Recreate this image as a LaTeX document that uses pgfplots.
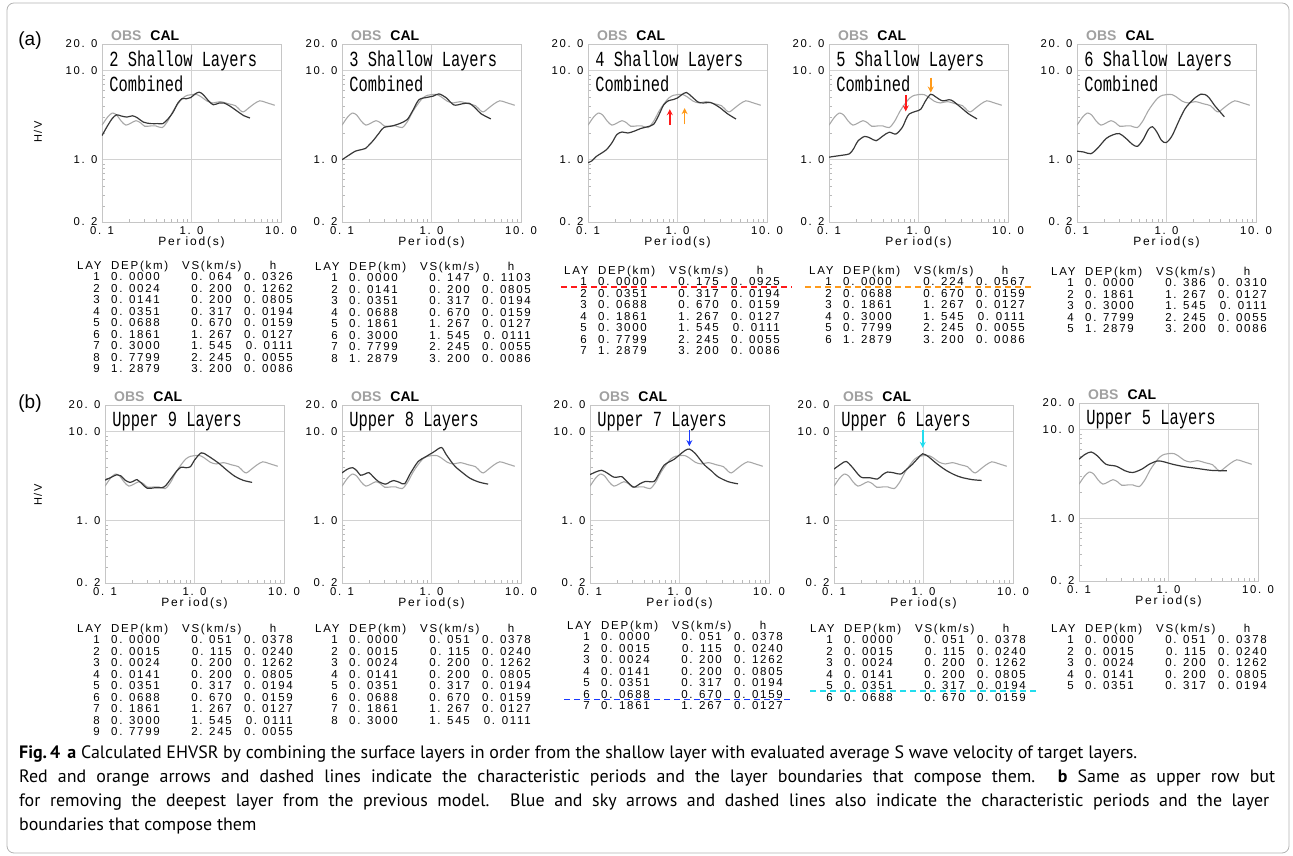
\documentclass[border=0pt]{standalone}
\usepackage{fontspec}
\setmainfont{PT Sans}
\newfontfamily\gfont[LetterSpace=15]{Liberation Sans}
\newfontfamily\hfont{Liberation Sans}
\newfontfamily\mfont{Liberation Mono}
\usepackage{graphicx}
\usepackage{pgfplots}
\usepackage{pgfplotstable}
\pgfplotsset{compat=1.18}
\usetikzlibrary{arrows.meta}
\definecolor{obs}{HTML}{A8A8A8}
\definecolor{obst}{HTML}{A0A0A0}
\definecolor{cal}{HTML}{383838}
\definecolor{myred}{HTML}{FF1A1A}
\definecolor{myorange}{HTML}{FF9A1A}
\definecolor{myblue}{HTML}{1A3AFF}
\definecolor{mysky}{HTML}{22DDEE}

\pgfplotstableread{
T V
0.1 2.45
0.115 3.0
0.13 3.35
0.145 3.2
0.165 2.7
0.185 2.45
0.21 2.58
0.24 2.75
0.27 2.6
0.3 2.38
0.35 2.4
0.4 2.4
0.47 2.3
0.54 2.7
0.62 3.5
0.7 4.2
0.8 4.95
0.9 5.3
1.0 5.4
1.15 5.4
1.3 5.05
1.5 4.55
1.75 4.35
2.1 4.5
2.6 4.25
3.1 4.05
3.5 3.6
3.8 3.45
4.4 3.85
5.0 4.25
5.8 4.6
6.8 4.4
8.5 4.1
}\obstab

\tikzset{
  tfont/.style={font=\gfont\fontsize{11.5}{11.5}\selectfont, inner sep=0pt, text height=8.2pt, text depth=0pt},
  legt/.style={font=\hfont\bfseries\fontsize{14}{14}\selectfont, inner sep=0pt, anchor=south west},
  ttl/.style={font=\mfont\fontsize{15.4}{15.4}\selectfont, inner sep=0pt, anchor=west},
  arr/.style={line width=1.6pt, -{Stealth[length=6pt,width=6pt]}},
}
\newcommand\hvaxis[1]{\begin{axis}[
    xmode=log, ymode=log, xmin=0.1, xmax=10, ymin=0.2, ymax=20,
    width=179pt, height=178pt, scale only axis, anchor=south west, at={#1},
    clip mode=individual,
    axis line style={draw=gray!45, line width=0.7pt},
    xtick={0.1,1,10}, xticklabels={0. 1,1. 0,10. 0},
    ytick={0.2,1,10,20}, yticklabels={0. 2,1. 0,10. 0,20. 0},
    minor xtick={0.2,0.3,0.4,0.5,0.6,0.7,0.8,0.9,2,3,4,5,6,7,8,9},
    minor ytick={0.3,0.4,0.5,0.6,0.7,0.8,0.9,2,3,4,5,6,7,8,9},
    xmajorgrids, ymajorgrids, major grid style={draw=gray!35, line width=0.6pt},
    tick pos=left, tick align=inside, major tick length=0pt, minor tick length=3pt,
    minor tick style={draw=gray!55, line width=0.5pt},
    ticklabel style={font=\gfont\fontsize{11.3}{11.3}\selectfont},
    xticklabel style={yshift=-1pt},
    yticklabel style={xshift=-1pt},
    xlabel={Per iod(s)}, xlabel style={font=\gfont\fontsize{12}{12}\selectfont, yshift=5pt},
  ]}
\newcommand\obsplot{\addplot[color=obs, line width=1.1pt, smooth] table[x=T,y=V] {\obstab};}
\newcommand\obscal{\node[legt] at (rel axis cs:0.05,1.02) {\textcolor{obst}{OBS}\hspace{9pt}CAL};}
\newcommand\ttlA[1]{\node[ttl] at (rel axis cs:0.04,0.906) {\scalebox{1}[1.4]{#1}};}
\newcommand\ttlB[1]{\node[ttl] at (rel axis cs:0.04,0.777) {\scalebox{1}[1.4]{#1}};}
\newcommand\laytab[3]{%
  \node[tfont, anchor=west] at (#1, {856-#2}) {LAY};
  \node[tfont, anchor=west] at ({#1+34}, {856-#2}) {DEP(km)};
  \node[tfont, anchor=west] at ({#1+105}, {856-#2}) {VS(km/s)};
  \node[tfont] at ({#1+196}, {856-#2}) {h};
  \foreach \ca/\cb/\cc/\cd [count=\ii] in {#3} {
    \node[tfont, anchor=east] at ({#1+23}, {856-#2-11.5*\ii}) {\ca};
    \node[tfont, anchor=west] at ({#1+34}, {856-#2-11.5*\ii}) {\cb};
    \node[tfont, anchor=east] at ({#1+155}, {856-#2-11.5*\ii}) {\cc};
    \node[tfont, anchor=east] at ({#1+216}, {856-#2-11.5*\ii}) {\cd};
  }
}
\newcommand\lineone{\textbf{Fig.\,4}\hspace{0.4em}\textbf{a} Calculated EHVSR by combining the surface layers in order from the shallow layer with evaluated average S wave velocity of target layers.}
\newlength\capw

\begin{document}
\settowidth\capw{\fontsize{10}{10}\selectfont\lineone}%
\pgfmathsetmacro\capsize{10*1118/\capw}%
\begin{tikzpicture}
% ---------- top row ----------
\hvaxis{(102pt,634pt)}
\obscal \ttlA{2 Shallow Layers} \ttlB{Combined}
\obsplot
\addplot[color=cal, line width=1.2pt, smooth] coordinates {(0.1,1.87) (0.115,2.4) (0.13,2.9) (0.145,3.2) (0.165,3.1) (0.19,3.02) (0.22,3.12) (0.25,2.95) (0.29,2.65) (0.35,2.55) (0.42,2.55) (0.48,2.55) (0.55,2.9) (0.62,3.4) (0.7,4.3) (0.78,4.85) (0.88,4.85) (0.98,5.0) (1.1,5.5) (1.22,5.75) (1.35,5.4) (1.55,4.6) (1.75,4.15) (2.05,4.35) (2.3,4.35) (2.7,4.0) (3.2,3.55) (3.8,3.15) (4.5,2.95)};
\end{axis}

\hvaxis{(342pt,634pt)}
\obscal \ttlA{3 Shallow Layers} \ttlB{Combined}
\obsplot
\addplot[color=cal, line width=1.2pt, smooth] coordinates {(0.1,1.0) (0.12,1.13) (0.141,1.25) (0.165,1.3) (0.183,1.34) (0.205,1.5) (0.226,1.67) (0.26,2.0) (0.293,2.3) (0.364,2.4) (0.44,2.55) (0.535,2.83) (0.62,3.6) (0.724,4.73) (0.898,5.03) (1.05,5.2) (1.21,5.5) (1.45,5.0) (1.78,4.13) (2.2,4.25) (2.63,4.32) (3.1,3.8) (3.56,3.3) (4.6,2.88)};
\end{axis}

\hvaxis{(588pt,634pt)}
\obscal \ttlA{4 Shallow Layers} \ttlB{Combined}
\obsplot
\addplot[color=cal, line width=1.2pt, smooth] coordinates {(0.1,0.93) (0.11,0.97) (0.124,1.09) (0.14,1.18) (0.161,1.3) (0.185,1.55) (0.21,1.92) (0.24,2.05) (0.28,2.0) (0.33,2.1) (0.39,2.25) (0.454,2.34) (0.54,2.5) (0.62,3.2) (0.7,4.13) (0.79,4.6) (0.9,4.75) (1.0,4.95) (1.12,5.4) (1.26,5.7) (1.45,5.1) (1.7,4.45) (1.95,4.35) (2.34,4.4) (2.7,4.1) (3.03,3.8) (3.6,3.3) (4.5,2.87)};
\draw[arr, myred] (axis cs:0.82,2.45) -- (axis cs:0.82,3.7);
\draw[arr, myorange] (axis cs:1.2,2.5) -- (axis cs:1.2,3.8);
\end{axis}

\hvaxis{(829pt,634pt)}
\obscal \ttlA{5 Shallow Layers} \ttlB{Combined}
\obsplot
\addplot[color=cal, line width=1.2pt, smooth] coordinates {(0.1,1.07) (0.12,1.1) (0.145,1.13) (0.17,1.17) (0.19,1.35) (0.21,1.62) (0.25,1.83) (0.29,1.75) (0.336,1.64) (0.4,1.85) (0.47,2.04) (0.56,1.95) (0.66,2.32) (0.73,2.9) (0.79,3.28) (0.93,3.5) (1.06,3.7) (1.2,4.6) (1.37,5.45) (1.55,5.1) (1.85,4.6) (2.3,4.7) (2.95,3.9) (3.6,3.3) (4.5,2.88)};
\draw[arr, myred] (axis cs:0.72,5.3) -- (axis cs:0.72,3.5);
\draw[arr, myorange] (axis cs:1.37,8.4) -- (axis cs:1.37,5.7);
\end{axis}

\hvaxis{(1077pt,634pt)}
\obscal \ttlA{6 Shallow Layers} \ttlB{Combined}
\obsplot
\addplot[color=cal, line width=1.2pt, smooth] coordinates {(0.1,1.25) (0.12,1.22) (0.143,1.17) (0.17,1.35) (0.211,1.73) (0.25,1.9) (0.297,1.97) (0.35,1.75) (0.42,1.48) (0.476,1.42) (0.55,1.7) (0.63,2.2) (0.7,2.35) (0.78,2.05) (0.88,1.65) (0.99,1.56) (1.15,1.85) (1.39,2.8) (1.6,3.7) (1.8,4.3) (2.1,5.0) (2.43,5.47) (2.7,5.4) (2.98,5.0) (3.5,4.0) (4.43,3.04)};
\end{axis}

% ---------- bottom row ----------
\hvaxis{(105pt,273pt)}
\obscal \ttlA{Upper 9 Layers}
\obsplot
\addplot[color=cal, line width=1.2pt, smooth] coordinates {(0.1,2.86) (0.115,3.05) (0.136,3.29) (0.15,3.2) (0.168,2.86) (0.19,2.7) (0.21,2.8) (0.228,2.9) (0.26,2.6) (0.296,2.32) (0.36,2.35) (0.457,2.4) (0.55,3.0) (0.63,3.6) (0.707,4.0) (0.8,3.95) (0.9,4.05) (1.0,4.8) (1.19,5.8) (1.4,5.4) (1.85,4.46) (2.3,3.7) (2.84,3.15) (3.5,2.85) (4.4,2.7)};
\end{axis}

\hvaxis{(342pt,273pt)}
\obscal \ttlA{Upper 8 Layers}
\obsplot
\addplot[color=cal, line width=1.2pt, smooth] coordinates {(0.1,3.45) (0.115,3.8) (0.132,3.95) (0.148,3.6) (0.161,3.25) (0.18,3.35) (0.2,3.48) (0.225,3.1) (0.257,2.75) (0.307,2.58) (0.34,2.72) (0.38,2.83) (0.44,2.7) (0.5,2.6) (0.58,3.4) (0.71,4.64) (0.85,5.2) (1.05,5.9) (1.29,6.66) (1.45,5.6) (1.8,4.17) (2.2,3.5) (2.7,3.0) (3.4,2.72) (4.3,2.58)};
\end{axis}

\hvaxis{(590pt,273pt)}
\obscal \ttlA{Upper 7 Layers}
\obsplot
\addplot[color=cal, line width=1.2pt, smooth] coordinates {(0.1,3.3) (0.117,3.55) (0.135,3.69) (0.155,3.45) (0.183,3.1) (0.205,3.1) (0.228,3.13) (0.26,2.75) (0.308,2.39) (0.36,2.6) (0.417,2.77) (0.52,2.77) (0.6,3.5) (0.67,4.2) (0.77,4.6) (0.87,4.9) (1.0,5.5) (1.15,6.15) (1.29,6.4) (1.5,5.7) (1.89,4.27) (2.3,3.6) (2.68,3.13) (3.5,2.75) (4.5,2.6)};
\draw[arr, myblue] (axis cs:1.29,10.4) -- (axis cs:1.29,6.9);
\end{axis}

\hvaxis{(834pt,273pt)}
\obscal \ttlA{Upper 6 Layers}
\obsplot
\addplot[color=cal, line width=1.2pt, smooth] coordinates {(0.1,3.81) (0.12,4.35) (0.137,4.64) (0.16,4.0) (0.2,3.1) (0.25,3.05) (0.307,2.95) (0.35,3.3) (0.396,3.53) (0.47,3.45) (0.556,3.35) (0.65,3.8) (0.75,4.3) (0.86,5.0) (0.98,5.66) (1.15,5.2) (1.36,4.5) (1.75,3.74) (2.2,3.3) (2.67,3.07) (3.5,2.9) (4.46,2.84)};
\draw[arr, mysky] (axis cs:0.98,10.5) -- (axis cs:0.98,6.6);
\end{axis}

\hvaxis{(1079pt,275pt)}
\obscal \ttlA{Upper 5 Layers}
\obsplot
\addplot[color=cal, line width=1.2pt, smooth] coordinates {(0.1,4.67) (0.117,5.3) (0.137,5.63) (0.16,5.1) (0.2,4.1) (0.26,3.9) (0.33,3.45) (0.398,3.31) (0.5,3.6) (0.61,4.1) (0.755,4.47) (0.9,4.35) (1.11,4.1) (1.5,3.85) (2.01,3.7) (3.0,3.5) (4.5,3.46)};
\end{axis}

\begin{scope}[x=1pt,y=1pt]
\path (0,0) rectangle (1293,856);
\draw[gray!60, line width=0.8pt, rounded corners=7pt] (7,3) rectangle (1289,853);
\node[font=\hfont\fontsize{19}{19}\selectfont, inner sep=0] at (30,{856-41}) {(a)};
\node[font=\hfont\fontsize{19}{19}\selectfont, inner sep=0] at (30,{856-404}) {(b)};
\node[font=\gfont\fontsize{11}{11}\selectfont, rotate=90, inner sep=0] at (38,{856-132}) {H/V};
\node[font=\gfont\fontsize{11}{11}\selectfont, rotate=90, inner sep=0] at (38,{856-495}) {H/V};

% ---------- layer tables ----------
\laytab{77}{265}{1/0. 0000/0. 064/0. 0326, 2/0. 0024/0. 200/0. 1262, 3/0. 0141/0. 200/0. 0805, 4/0. 0351/0. 317/0. 0194, 5/0. 0688/0. 670/0. 0159, 6/0. 1861/1. 267/0. 0127, 7/0. 3000/1. 545/0. 0111, 8/0. 7799/2. 245/0. 0055, 9/1. 2879/3. 200/0. 0086}
\laytab{315}{266}{1/0. 0000/0. 147/0. 1103, 2/0. 0141/0. 200/0. 0805, 3/0. 0351/0. 317/0. 0194, 4/0. 0688/0. 670/0. 0159, 5/0. 1861/1. 267/0. 0127, 6/0. 3000/1. 545/0. 0111, 7/0. 7799/2. 245/0. 0055, 8/1. 2879/3. 200/0. 0086}
\laytab{564}{270}{1/0. 0000/0. 175/0. 0925, 2/0. 0351/0. 317/0. 0194, 3/0. 0688/0. 670/0. 0159, 4/0. 1861/1. 267/0. 0127, 5/0. 3000/1. 545/0. 0111, 6/0. 7799/2. 245/0. 0055, 7/1. 2879/3. 200/0. 0086}
\laytab{809}{270}{1/0. 0000/0. 224/0. 0567, 2/0. 0688/0. 670/0. 0159, 3/0. 1861/1. 267/0. 0127, 4/0. 3000/1. 545/0. 0111, 5/0. 7799/2. 245/0. 0055, 6/1. 2879/3. 200/0. 0086}
\laytab{1051}{271}{1/0. 0000/0. 386/0. 0310, 2/0. 1861/1. 267/0. 0127, 3/0. 3000/1. 545/0. 0111, 4/0. 7799/2. 245/0. 0055, 5/1. 2879/3. 200/0. 0086}

\laytab{77}{628}{1/0. 0000/0. 051/0. 0378, 2/0. 0015/0. 115/0. 0240, 3/0. 0024/0. 200/0. 1262, 4/0. 0141/0. 200/0. 0805, 5/0. 0351/0. 317/0. 0194, 6/0. 0688/0. 670/0. 0159, 7/0. 1861/1. 267/0. 0127, 8/0. 3000/1. 545/0. 0111, 9/0. 7799/2. 245/0. 0055}
\laytab{315}{628}{1/0. 0000/0. 051/0. 0378, 2/0. 0015/0. 115/0. 0240, 3/0. 0024/0. 200/0. 1262, 4/0. 0141/0. 200/0. 0805, 5/0. 0351/0. 317/0. 0194, 6/0. 0688/0. 670/0. 0159, 7/0. 1861/1. 267/0. 0127, 8/0. 3000/1. 545/0. 0111}
\laytab{567}{625}{1/0. 0000/0. 051/0. 0378, 2/0. 0015/0. 115/0. 0240, 3/0. 0024/0. 200/0. 1262, 4/0. 0141/0. 200/0. 0805, 5/0. 0351/0. 317/0. 0194, 6/0. 0688/0. 670/0. 0159, 7/0. 1861/1. 267/0. 0127}
\laytab{810}{628}{1/0. 0000/0. 051/0. 0378, 2/0. 0015/0. 115/0. 0240, 3/0. 0024/0. 200/0. 1262, 4/0. 0141/0. 200/0. 0805, 5/0. 0351/0. 317/0. 0194, 6/0. 0688/0. 670/0. 0159}
\laytab{1051}{628}{1/0. 0000/0. 051/0. 0378, 2/0. 0015/0. 115/0. 0240, 3/0. 0024/0. 200/0. 1262, 4/0. 0141/0. 200/0. 0805, 5/0. 0351/0. 317/0. 0194}

\draw[myred, line width=1.1pt, dash pattern=on 6pt off 4pt] (561,{856-287}) -- (792,{856-287});
\draw[myorange, line width=1.1pt, dash pattern=on 6pt off 4pt] (805,{856-287}) -- (1033,{856-287});
\draw[myblue, line width=1.2pt, dash pattern=on 6pt off 4pt] (564,{856-699.5}) -- (790,{856-699.5});
\draw[mysky, line width=1.2pt, dash pattern=on 6pt off 4pt] (810,{856-691}) -- (1038,{856-691});

% ---------- caption ----------
\begin{scope}[every node/.style={anchor=base west, inner sep=0pt, font=\fontsize{\capsize}{\capsize}\selectfont}]
\node at (19,{856-759}) {\lineone};
\node at (19,{856-783}) {\hbox to 1256pt{Red and orange arrows and dashed lines indicate the characteristic periods and the layer boundaries that compose them. \textbf{b} Same as upper row but}};
\node at (19,{856-807}) {\hbox to 1250pt{for removing the deepest layer from the previous model. Blue and sky arrows and dashed lines also indicate the characteristic periods and the layer}};
\node at (19,{856-831}) {boundaries that compose them};
\end{scope}
\end{scope}
\end{tikzpicture}
\end{document}
